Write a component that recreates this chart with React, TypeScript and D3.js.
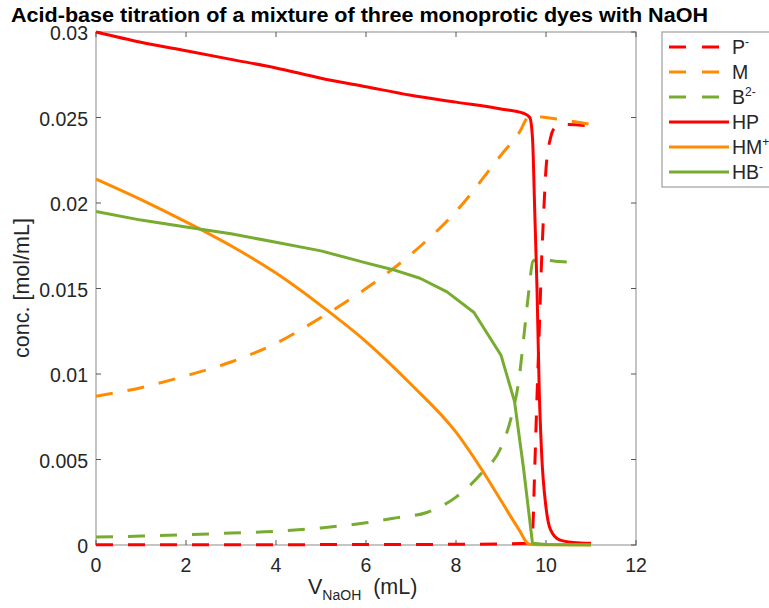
import * as d3 from 'd3';

// titration volumes (mL) and concentrations (mol/mL)
const volP = [0, 2, 4, 6, 8, 9, 9.6, 9.7, 9.75, 9.8, 9.85, 9.9, 9.95, 10, 10.1, 10.2, 10.4, 11];
const concP = [0.00002, 0.00002, 0.00002, 0.00003, 0.00004, 0.00006, 0.0001, 0.0008, 0.0045, 0.0087, 0.0125, 0.0165, 0.0195, 0.022, 0.0238, 0.0244, 0.0246, 0.0245];

const volM = [0, 1, 2, 3, 4, 5, 6, 7, 8, 9, 9.4, 9.64, 10, 11];
const concM = [0.0087, 0.0092, 0.0099, 0.0107, 0.0118, 0.0133, 0.015, 0.017, 0.0195, 0.0228, 0.0241, 0.0251, 0.025, 0.0246];

const volB = [0, 1, 2, 3, 4, 5, 6, 6.7, 7.35, 8, 8.6, 9, 9.25, 9.4, 9.5, 9.62, 9.71, 9.82, 10.2, 10.7];
const concB = [0.00047, 0.00052, 0.0006, 0.0007, 0.0008, 0.001, 0.0013, 0.0016, 0.0019, 0.0028, 0.0043, 0.0057, 0.0077, 0.0097, 0.012, 0.0149, 0.0166, 0.0167, 0.0166, 0.0165];

const volHP = [0, 1, 2, 3, 4, 5, 6, 7, 8, 9, 9.5, 9.64, 9.7, 9.75, 9.8, 9.85, 9.9, 10, 10.1, 10.3, 10.6, 11];
const concHP = [0.03, 0.0294, 0.0289, 0.0284, 0.0279, 0.0273, 0.0268, 0.0263, 0.0259, 0.0255, 0.02525, 0.025, 0.0238, 0.0195, 0.015, 0.009, 0.0055, 0.0022, 0.0009, 0.0003, 0.00015, 0.0001];

const volHM = [0, 1, 2, 3, 4, 5, 6, 7, 8, 8.6, 9, 9.4, 9.62, 10, 11];
const concHM = [0.0214, 0.0202, 0.0189, 0.0175, 0.0159, 0.014, 0.0119, 0.0094, 0.0066, 0.0043, 0.0026, 0.0009, 0.00005, 0.00001, 0.000005];

const volHB = [0, 1, 2, 3, 4, 5, 6, 6.6, 7.2, 7.8, 8.4, 9, 9.3, 9.5, 9.7, 10, 11];
const concHB = [0.0195, 0.019, 0.0186, 0.0182, 0.0177, 0.0172, 0.0165, 0.0161, 0.0156, 0.0148, 0.0136, 0.0111, 0.0084, 0.0045, 0.0001, 0.00003, 0.00001];

const xTicks = [0, 2, 4, 6, 8, 10, 12];
const yTicks = [0, 0.005, 0.01, 0.015, 0.02, 0.025, 0.03];
const yTickLabels = ['0', '0.005', '0.01', '0.015', '0.02', '0.025', '0.03'];

const RED = '#ff0000';
const ORANGE = '#ff8c00';
const GREEN = '#77ac30';

type Series = { name: string; sup: string; vol: number[]; conc: number[]; color: string; dashed: boolean; smooth: boolean };

const series: Series[] = [
  { name: 'P', sup: '-', vol: volP, conc: concP, color: RED, dashed: true, smooth: true },
  { name: 'M', sup: '', vol: volM, conc: concM, color: ORANGE, dashed: true, smooth: true },
  { name: 'B', sup: '2-', vol: volB, conc: concB, color: GREEN, dashed: true, smooth: true },
  { name: 'HP', sup: '', vol: volHP, conc: concHP, color: RED, dashed: false, smooth: true },
  { name: 'HM', sup: '+', vol: volHM, conc: concHM, color: ORANGE, dashed: false, smooth: true },
  { name: 'HB', sup: '-', vol: volHB, conc: concHB, color: GREEN, dashed: false, smooth: false },
];

const W = 769;
const H = 608;
const left = 96, right = 636, top = 32, bottom = 545;
const font = '"Liberation Sans", Arial, Helvetica, sans-serif';
const axisColor = '#a6a6a6';
const textColor = '#262626';

export default function App() {
  const x = d3.scaleLinear().domain([0, 12]).range([left, right]);
  const y = d3.scaleLinear().domain([0, 0.03]).range([bottom, top]);

  const makeLine = (smooth: boolean) => d3.line<[number, number]>()
    .x(d => x(d[0]))
    .y(d => y(d[1]))
    .curve(smooth ? d3.curveMonotoneX : d3.curveLinear);

  return (
    <svg width={W} height={H} style={{ position: 'absolute', left: 0, top: 0, background: '#fff' }} fontFamily={font}>
      <rect x={0} y={0} width={W} height={H} fill="#fff" />

      <text x={359.5} y={22} textAnchor="middle" fontSize={20} fontWeight="bold" fill="#000"
        textLength={697} lengthAdjust="spacingAndGlyphs">
        Acid-base titration of a mixture of three monoprotic dyes with NaOH
      </text>

      {/* plot box, ticks point inward on all four sides */}
      <rect x={left} y={top} width={right - left} height={bottom - top} fill="none" stroke={axisColor} strokeWidth={1.3} />
      {xTicks.map(t => (
        <g key={'x' + t}>
          <line x1={x(t)} x2={x(t)} y1={bottom} y2={bottom - 5} stroke="#555" />
          <line x1={x(t)} x2={x(t)} y1={top} y2={top + 5} stroke="#555" />
          <text x={x(t)} y={bottom + 27} textAnchor="middle" fontSize={19.5} fill={textColor}>{t}</text>
        </g>
      ))}
      {yTicks.map((t, i) => (
        <g key={'y' + t}>
          <line x1={left} x2={left + 5} y1={y(t)} y2={y(t)} stroke="#555" />
          <line x1={right} x2={right - 5} y1={y(t)} y2={y(t)} stroke="#555" />
          <text x={88} y={y(t) + 8} textAnchor="end" fontSize={19.5} fill={textColor}>{yTickLabels[i]}</text>
        </g>
      ))}

      <text x={308} y={594} fontSize={21.5} fill={textColor}>
        V<tspan fontSize={14} dy={6}>NaOH</tspan><tspan dy={-6}>{'\u00a0 (mL)'}</tspan>
      </text>
      <text transform={`translate(29,288) rotate(-90)`} textAnchor="middle" fontSize={21.5} fill={textColor}>
        conc. [mol/mL]
      </text>

      {series.map(s => (
        <path
          key={s.name + s.sup}
          d={makeLine(s.smooth)(s.vol.map((v, i) => [v, s.conc[i]] as [number, number])) || ''}
          fill="none"
          stroke={s.color}
          strokeWidth={3}
          strokeDasharray={s.dashed ? '17 15' : undefined}
          strokeLinejoin="round"
        />
      ))}

      {/* legend */}
      <rect x={662} y={32} width={120} height={155} fill="#fff" stroke={axisColor} strokeWidth={1.3} />
      {series.map((s, i) => {
        const cy = 47 + i * 25;
        return (
          <g key={'lg' + i}>
            <line x1={669} x2={729} y1={cy} y2={cy} stroke={s.color} strokeWidth={3} strokeDasharray={s.dashed ? '17 16' : undefined} />
            <text x={732} y={cy + 7} fontSize={19.5} fill={textColor}>
              {s.name}
              {s.sup && <tspan fontSize={12} dy={-8}>{s.sup}</tspan>}
            </text>
          </g>
        );
      })}
    </svg>
  );
}
